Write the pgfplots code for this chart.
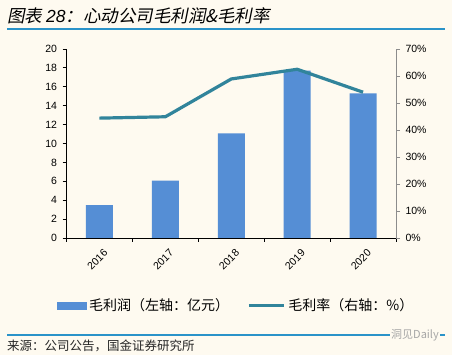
\documentclass[border=0pt]{standalone}
\usepackage{pgfplots}
\pgfplotsset{compat=1.18}
\usepackage{fontspec}
\setmainfont{Liberation Sans}
\newfontfamily\cjk{Noto Sans CJK SC}
\newfontfamily\cjkit{Noto Sans CJK SC}[FakeSlant=0.2]
\definecolor{bg}{HTML}{FEFAF0}
\definecolor{topline}{HTML}{2A93C9}
\definecolor{barc}{HTML}{558ED5}
\definecolor{linec}{HTML}{31849B}
\definecolor{rgray}{HTML}{8C8C8C}
\begin{document}
\begin{tikzpicture}[x=1pt,y=1pt]
\fill[bg] (0,0) rectangle (452,-355);
\node[anchor=west, inner sep=0] at (7,-16) {\cjkit\fontsize{17.5}{19}\selectfont 图表 {\normalfont\itshape\fontsize{17.5}{19}\selectfont 28}：心动公司毛利润\&毛利率};
\draw[topline, line width=2.5pt] (7,-29) -- (445,-29);
\begin{axis}[
  at={(66.5pt,-238pt)}, anchor=south west, scale only axis,
  width=329.5pt, height=189pt,
  xmin=-0.5, xmax=4.5, ymin=0, ymax=20,
  axis x line*=bottom, axis y line*=left, axis line style={-, black, line width=0.8pt},
  ytick={0,2,...,20},
  xtick={0,...,4}, xticklabels={2016,2017,2018,2019,2020},
  minor xtick={-0.5,0.5,...,4.5},
  major x tick style={draw=none},
  minor x tick style={black, line width=0.8pt},
  minor tick length=4pt,
  ytick style={black, line width=0.8pt},
  tick align=outside, major tick length=4pt,
  /pgf/number format/assume math mode=true,
  yticklabel style={font=\fontsize{10.5}{12}\selectfont, xshift=-2pt},
  xticklabel style={font=\fontsize{10.5}{12}\selectfont, rotate=45, anchor=north east, inner sep=1pt, xshift=-1pt, yshift=-6pt},
]
\addplot[ybar, bar width=27pt, fill=barc, draw=none] coordinates {(0,3.49) (1,6.06) (2,11.08) (3,17.7) (4,15.3)};
\end{axis}
\begin{axis}[
  at={(66.5pt,-238pt)}, anchor=south west, scale only axis,
  width=329.5pt, height=189pt,
  xmin=-0.5, xmax=4.5, ymin=0, ymax=70,
  axis x line=none, axis y line*=right,
  axis line style={-, rgray, line width=0.8pt},
  ytick={0,10,...,70},
  ytick style={rgray, line width=0.8pt},
  tick align=outside, major tick length=4pt,
  /pgf/number format/assume math mode=true,
  yticklabel={\pgfmathprintnumber{\tick}\%},
  yticklabel style={font=\fontsize{10.5}{12}\selectfont, xshift=2pt},
  legend style={at={(axis description cs:-0.03,-0.357)}, anchor=west, draw=none, fill=none,
    font=\cjk\fontsize{14}{16}\selectfont, inner sep=0pt,
    nodes={inner xsep=3pt},
    /tikz/every even column/.append style={column sep=15pt}},
  legend columns=2,
]
\addlegendimage{legend image code/.code={\fill[barc] (0pt,-3.5pt) rectangle (29pt,3.5pt);}}
\addlegendentry{毛利润（左轴：亿元）}
\addplot[linec, line width=3.2pt, legend image code/.code={\draw[linec, line width=3.2pt] (0pt,0pt) -- (35pt,0pt);}] coordinates {(0,44.4) (1,44.9) (2,58.9) (3,62.5) (4,54.0)};
\addlegendentry{毛利率（右轴：\%）}
\end{axis}
\draw[topline, line width=2pt] (7,-335) -- (445,-335);
\node[fill=bg, text=gray!70, inner sep=1pt, anchor=west] at (390,-335) {\cjk\fontsize{11}{12}\selectfont 洞见Daily};
\node[anchor=west, inner sep=0, text=black!85] at (7,-345.5) {\cjk\fontsize{12.5}{14}\selectfont 来源：公司公告，国金证券研究所};
\end{tikzpicture}
\end{document}
